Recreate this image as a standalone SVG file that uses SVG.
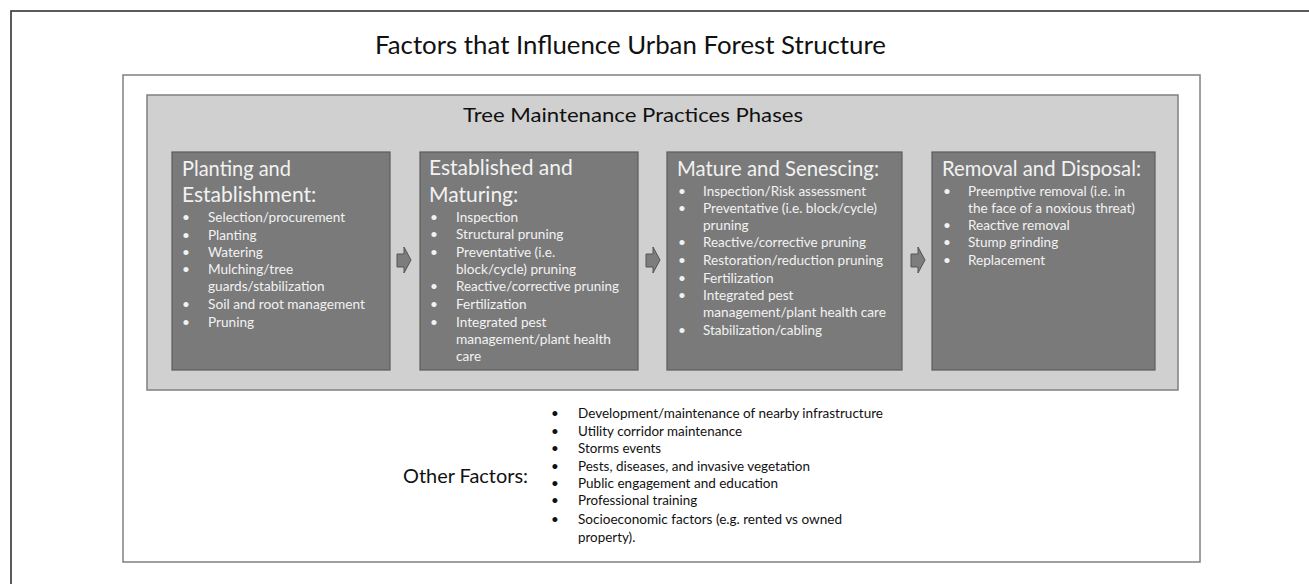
<svg xmlns="http://www.w3.org/2000/svg" width="1309" height="584" viewBox="0 0 1309 584">
<style>
.t{font-family:Lato,"Open Sans","Liberation Sans",sans-serif}
.title{font-size:25px;fill:#111}
.sub{font-size:20px;fill:#111}
.hd{font-size:21px;fill:#f2f2f2}
.it{font-size:13.6px;fill:#f2f2f2}
.ot{font-size:13.4px;fill:#111}
.of{font-size:20px;fill:#111}
.box{fill:#7a7a7a;stroke:#5c5c5c;stroke-width:1.2}
.arr{fill:#7d7d7d;stroke:#555;stroke-width:1}
</style>
<rect x="0" y="0" width="1309" height="584" fill="#fff"/>
<rect x="11" y="11" width="1320" height="600" fill="none" stroke="#333" stroke-width="1.6"/>
<text class="t title" x="375" y="54" textLength="511" lengthAdjust="spacingAndGlyphs">Factors that Influence Urban Forest Structure</text>
<rect id="frame" x="123" y="75" width="1077" height="487" fill="#fff" stroke="#808080" stroke-width="1.5"/>
<g id="phases">
<rect x="147" y="95" width="1031" height="295" fill="#d0d0d0" stroke="#808080" stroke-width="1.5"/>
<text class="t sub" x="463" y="122" textLength="340" lengthAdjust="spacingAndGlyphs">Tree Maintenance Practices Phases</text>
</g>
<g id="planting">
<rect class="box" x="172" y="152" width="218" height="218"/>
<text class="t hd" x="182" y="176" textLength="109" lengthAdjust="spacingAndGlyphs">Planting and</text>
<text class="t hd" x="182" y="202">Establishment:</text>
<g class="t it">
<text x="182" y="222">•</text><text x="208" y="222" textLength="137" lengthAdjust="spacingAndGlyphs">Selection/procurement</text>
<text x="182" y="240">•</text><text x="208" y="240">Planting</text>
<text x="182" y="257">•</text><text x="208" y="257">Watering</text>
<text x="182" y="274">•</text><text x="208" y="274">Mulching/tree</text>
<text x="208" y="291">guards/stabilization</text>
<text x="182" y="309">•</text><text x="208" y="309" textLength="157" lengthAdjust="spacingAndGlyphs">Soil and root management</text>
<text x="182" y="327">•</text><text x="208" y="327">Pruning</text>
</g>
</g>
<g id="established">
<rect class="box" x="420" y="152" width="218" height="218"/>
<text class="t hd" x="429" y="175">Established and</text>
<text class="t hd" x="429" y="202">Maturing:</text>
<g class="t it">
<text x="430" y="222">•</text><text x="456" y="222">Inspection</text>
<text x="430" y="239">•</text><text x="456" y="239">Structural pruning</text>
<text x="430" y="257">•</text><text x="456" y="257">Preventative (i.e.</text>
<text x="456" y="274">block/cycle) pruning</text>
<text x="430" y="291">•</text><text x="456" y="291" textLength="163" lengthAdjust="spacingAndGlyphs">Reactive/corrective pruning</text>
<text x="430" y="309">•</text><text x="456" y="309">Fertilization</text>
<text x="430" y="327">•</text><text x="456" y="327">Integrated pest</text>
<text x="456" y="344" textLength="155" lengthAdjust="spacingAndGlyphs">management/plant health</text>
<text x="456" y="361">care</text>
</g>
</g>
<g id="mature">
<rect class="box" x="667" y="152" width="235" height="218"/>
<text class="t hd" x="677" y="176" textLength="202" lengthAdjust="spacingAndGlyphs">Mature and Senescing:</text>
<g class="t it">
<text x="678" y="196">•</text><text x="703" y="196" textLength="163" lengthAdjust="spacingAndGlyphs">Inspection/Risk assessment</text>
<text x="678" y="213">•</text><text x="703" y="213" textLength="174" lengthAdjust="spacingAndGlyphs">Preventative (i.e. block/cycle)</text>
<text x="703" y="230">pruning</text>
<text x="678" y="247">•</text><text x="703" y="247" textLength="163" lengthAdjust="spacingAndGlyphs">Reactive/corrective pruning</text>
<text x="678" y="265">•</text><text x="703" y="265" textLength="180" lengthAdjust="spacingAndGlyphs">Restoration/reduction pruning</text>
<text x="678" y="283">•</text><text x="703" y="283">Fertilization</text>
<text x="678" y="300">•</text><text x="703" y="300">Integrated pest</text>
<text x="703" y="317" textLength="183" lengthAdjust="spacingAndGlyphs">management/plant health care</text>
<text x="678" y="335">•</text><text x="703" y="335" textLength="119" lengthAdjust="spacingAndGlyphs">Stabilization/cabling</text>
</g>
</g>
<g id="removal">
<rect class="box" x="932" y="152" width="223" height="218"/>
<text class="t hd" x="942" y="176" textLength="199" lengthAdjust="spacingAndGlyphs">Removal and Disposal:</text>
<g class="t it">
<text x="943" y="196">•</text><text x="968" y="196" textLength="157" lengthAdjust="spacingAndGlyphs">Preemptive removal (i.e. in</text>
<text x="968" y="213" textLength="167" lengthAdjust="spacingAndGlyphs">the face of a noxious threat)</text>
<text x="943" y="230">•</text><text x="968" y="230">Reactive removal</text>
<text x="943" y="247">•</text><text x="968" y="247">Stump grinding</text>
<text x="943" y="265">•</text><text x="968" y="265">Replacement</text>
</g>
</g>
<g id="connectors">
<polygon class="arr" points="397,254 404,254 404,247 411,260 404,273 404,267 397,267"/>
<polygon class="arr" points="646,254 653,254 653,247 660,260 653,273 653,267 646,267"/>
<polygon class="arr" points="911,254 918,254 918,247 925,260 918,273 918,267 911,267"/>
</g>
<g id="other">
<text class="t of" x="403" y="483" textLength="125" lengthAdjust="spacingAndGlyphs">Other Factors:</text>
<g class="t ot">
<text x="551" y="418">•</text><text x="578" y="418" textLength="305" lengthAdjust="spacingAndGlyphs">Development/maintenance of nearby infrastructure</text>
<text x="551" y="436">•</text><text x="578" y="436">Utility corridor maintenance</text>
<text x="551" y="453">•</text><text x="578" y="453">Storms events</text>
<text x="551" y="471">•</text><text x="578" y="471" textLength="232" lengthAdjust="spacingAndGlyphs">Pests, diseases, and invasive vegetation</text>
<text x="551" y="488">•</text><text x="578" y="488" textLength="200" lengthAdjust="spacingAndGlyphs">Public engagement and education</text>
<text x="551" y="505">•</text><text x="578" y="505">Professional training</text>
<text x="551" y="524">•</text><text x="578" y="524" textLength="264" lengthAdjust="spacingAndGlyphs">Socioeconomic factors (e.g. rented vs owned</text>
<text x="578" y="542">property).</text>
</g>
</g>
</svg>
